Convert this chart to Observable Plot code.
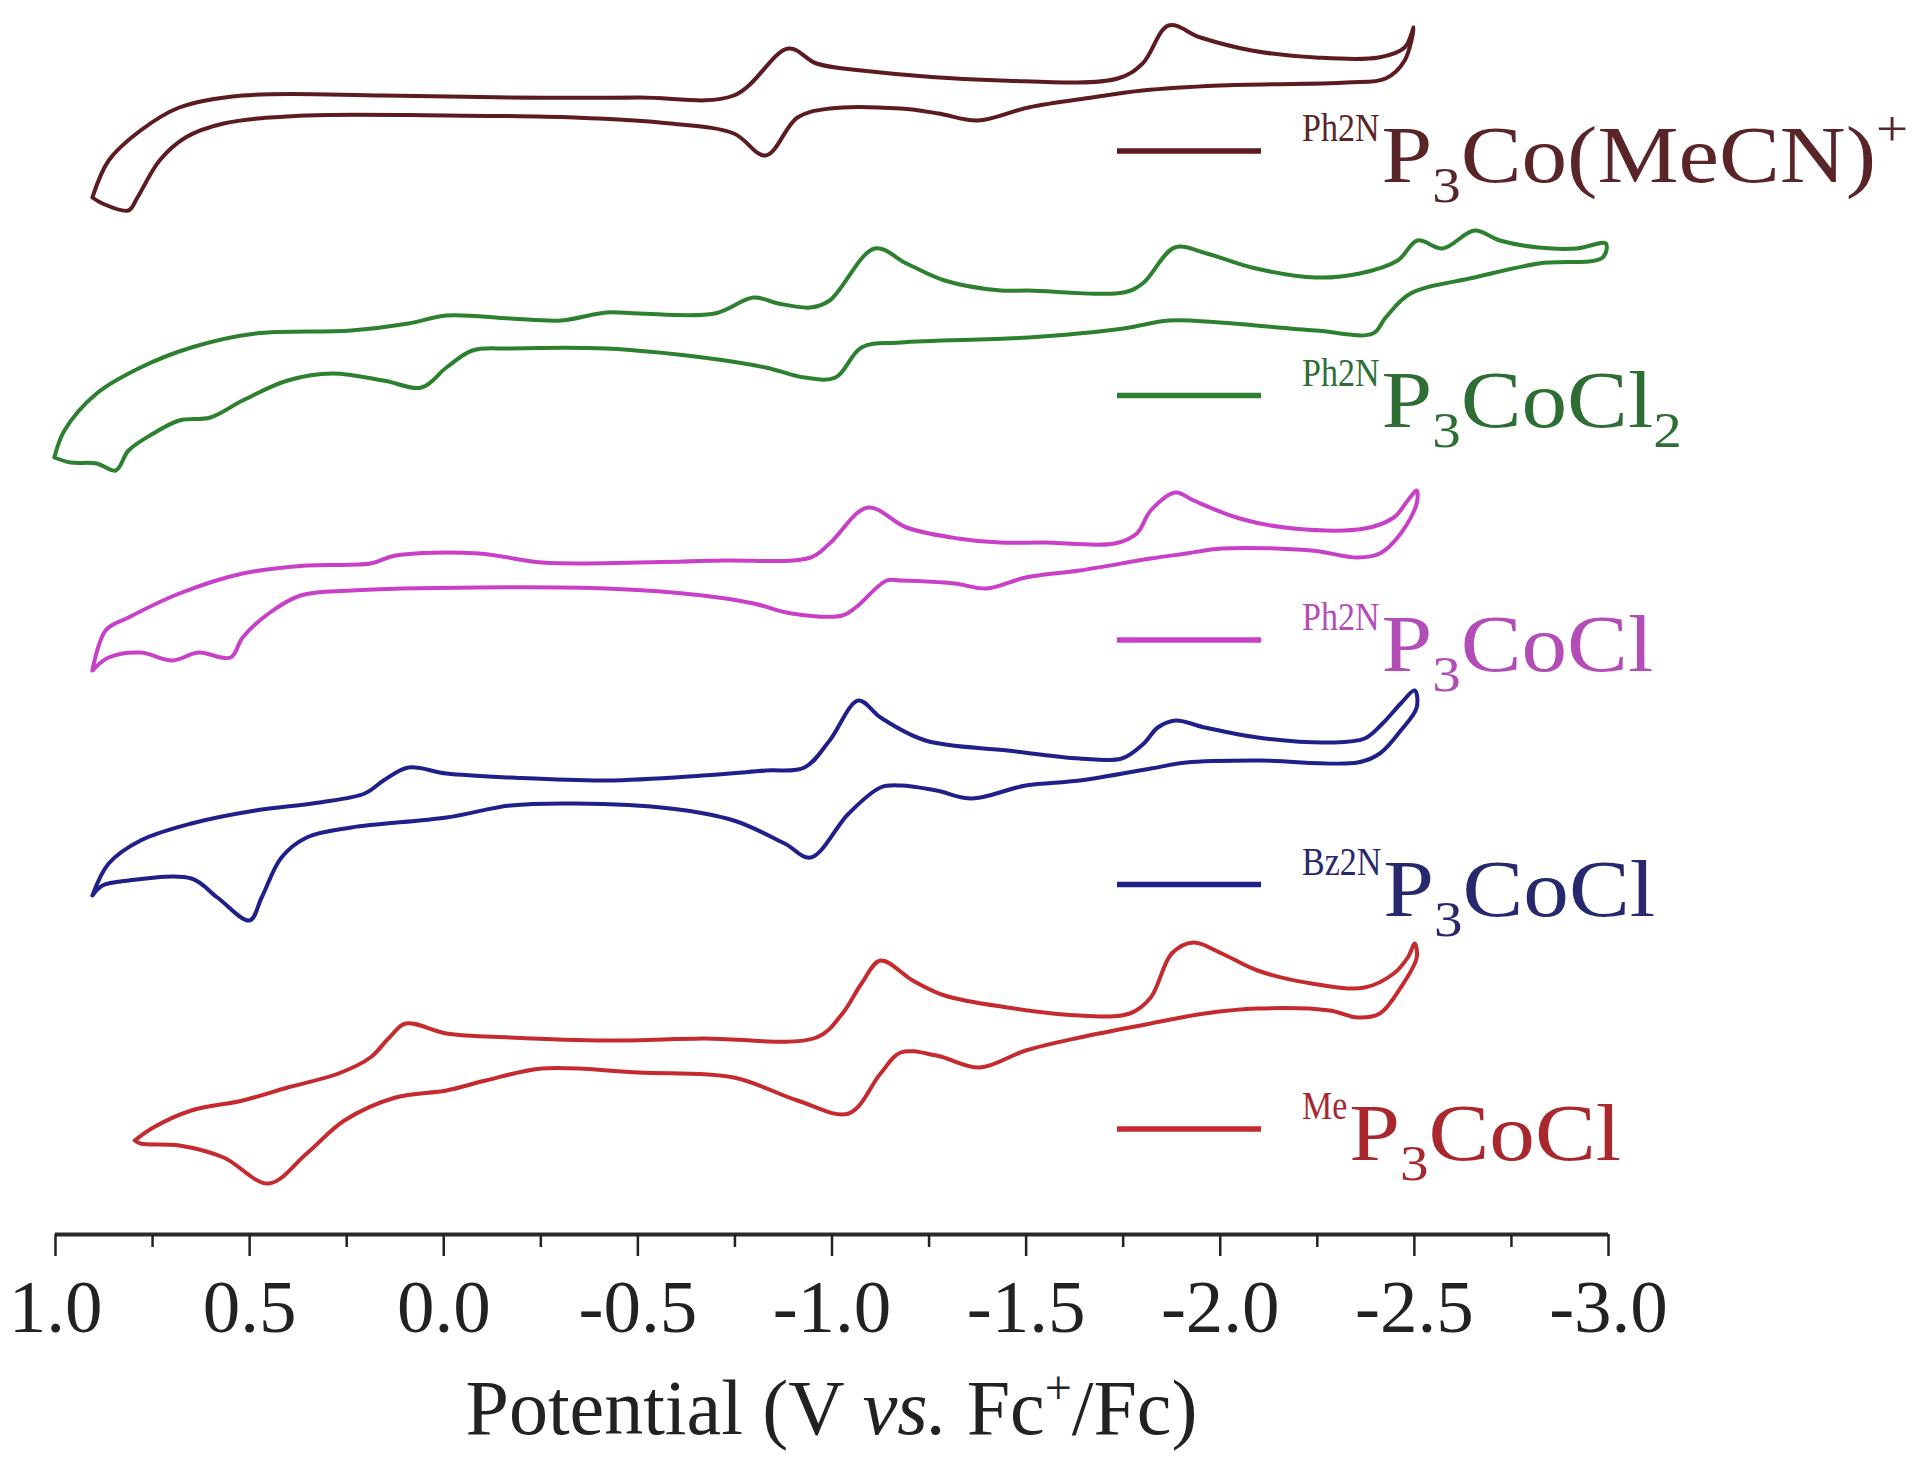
<!DOCTYPE html>
<html><head><meta charset="utf-8">
<script src="https://cdn.jsdelivr.net/npm/d3@7"></script>
<script src="https://cdn.jsdelivr.net/npm/@observablehq/plot@0.6"></script>
<style>
html,body{margin:0;padding:0;background:#fff;overflow:hidden}
#chart svg{display:block}
</style></head><body><div id="chart"></div>
<script>
// ---------- data ----------
const seriesNames = ["Ph2NP3Co(MeCN)+", "Ph2NP3CoCl2", "Ph2NP3CoCl", "Bz2NP3CoCl", "MeP3CoCl"];
const seriesColors = ["#5c1b20", "#2c8030", "#c840c8", "#20208a", "#c42a2e"];
const labelColors = ["#5a2529", "#2e6e35", "#b24cb6", "#28286e", "#a8282e"];
const labelPrefix = ["Ph2N", "Ph2N", "Ph2N", "Bz2N", "Me"];
// [text, kind] kind: "" normal, "sub", "sup"
const labelBody = [
  [["P", ""], ["3", "sub"], ["Co(MeCN)", ""], ["+", "sup"]],
  [["P", ""], ["3", "sub"], ["CoCl", ""], ["2", "sub"]],
  [["P", ""], ["3", "sub"], ["CoCl", ""]],
  [["P", ""], ["3", "sub"], ["CoCl", ""]],
  [["P", ""], ["3", "sub"], ["CoCl", ""]]
];
const majorTicks = [1.0, 0.5, 0.0, -0.5, -1.0, -1.5, -2.0, -2.5, -3.0];
const minorTicks = [0.75, 0.25, -0.25, -0.75, -1.25, -1.75, -2.25, -2.75];
const axisTitle = ["Potential (V ", "vs.", " Fc", "+", "/Fc)"];

// potential (V vs Fc+/Fc), stacked current (a.u.)
const cvPh2NMeCN = [[0.905,103.7],[0.863,107.4],[0.781,110.4],[0.681,112.7],[0.518,113.9],[0.155,113.9],[-0.172,113.7],[-0.502,113.7],[-0.747,113.9],[-0.888,118.6],[-0.960,117.1],[-1.076,116.4],[-1.434,115.4],[-1.736,115.6],[-1.800,117.1],[-1.867,120.9],[-1.949,119.7],[-2.081,118.4],[-2.246,117.7],[-2.408,117.7],[-2.475,118.7],[-2.498,120.7],
  [-2.475,117.4],[-2.426,115.6],[-2.326,115.2],[-1.998,114.9],[-1.800,114.4],[-1.669,113.7],[-1.506,112.7],[-1.375,111.4],[-1.275,112.1],[-1.177,112.6],[-0.994,112.6],[-0.911,111.7],[-0.829,107.9],[-0.747,110.1],[-0.584,111.1],[-0.337,111.7],[-0.007,111.9],[0.353,111.9],[0.567,111.1],[0.665,109.7],[0.732,107.4],[0.789,103.7],[0.812,102.4],[0.879,103.1],[0.905,103.7]];
const cvPh2NCl2 = [[1.003,77.7],[0.977,80.4],[0.894,84.1],[0.781,86.7],[0.650,88.7],[0.485,90.1],[0.238,90.4],[0.091,91.1],[-0.007,91.9],[-0.172,91.6],[-0.303,91.4],[-0.419,92.2],[-0.502,92.1],[-0.698,92.1],[-0.798,93.7],[-0.862,93.1],[-0.945,92.7],[-0.994,93.4],[-1.110,98.6],[-1.192,97.1],[-1.290,95.4],[-1.434,94.4],[-1.506,94.4],[-1.751,94.2],[-1.800,95.1],[-1.883,98.7],[-1.965,98.1],[-2.081,96.7],[-2.246,95.7],[-2.359,96.1],[-2.457,97.4],[-2.508,99.4],[-2.573,98.6],[-2.655,100.4],[-2.720,99.4],[-2.820,98.7],[-2.918,98.6],[-2.993,99.1],
  [-2.985,97.7],[-2.820,97.1],[-2.655,95.7],[-2.490,94.1],[-2.426,91.7],[-2.393,90.1],[-2.246,90.4],[-1.998,91.2],[-1.867,91.4],[-1.751,90.6],[-1.506,89.7],[-1.177,89.2],[-1.076,88.7],[-1.009,85.7],[-0.929,85.7],[-0.829,86.7],[-0.667,87.7],[-0.419,88.6],[-0.172,88.6],[-0.074,88.4],[-0.007,86.7],[0.057,84.7],[0.155,85.4],[0.286,86.1],[0.402,85.4],[0.518,83.4],[0.601,81.7],[0.681,81.4],[0.748,80.1],[0.812,78.4],[0.845,76.4],[0.894,77.1],[0.961,77.2],[1.003,77.7]];
const cvPh2NCl = [[0.905,56.4],[0.871,60.4],[0.812,61.7],[0.681,64.1],[0.518,66.1],[0.353,66.9],[0.189,67.1],[0.124,67.9],[-0.090,68.1],[-0.254,67.2],[-0.502,67.2],[-0.716,67.4],[-0.945,67.7],[-0.994,69.1],[-1.092,72.7],[-1.192,70.7],[-1.324,69.6],[-1.434,69.2],[-1.545,69.2],[-1.728,69.1],[-1.785,70.1],[-1.821,72.4],[-1.885,74.2],[-1.931,73.4],[-2.050,71.6],[-2.189,70.6],[-2.372,70.6],[-2.447,71.7],[-2.483,73.4],[-2.506,74.4],
  [-2.506,73.1],[-2.465,70.1],[-2.411,68.1],[-2.354,67.7],[-2.235,68.4],[-2.004,68.6],[-1.913,68.1],[-1.821,67.6],[-1.638,66.4],[-1.499,65.7],[-1.398,64.6],[-1.316,65.1],[-1.177,65.4],[-1.141,65.4],[-1.061,62.7],[-1.027,61.9],[-0.896,62.1],[-0.798,63.1],[-0.667,63.9],[-0.419,64.6],[-0.090,64.7],[0.238,64.4],[0.369,63.9],[0.451,62.1],[0.518,59.7],[0.549,57.7],[0.632,58.2],[0.699,57.4],[0.781,58.2],[0.863,57.7],[0.905,56.4]];
const cvBz2NCl = [[0.905,33.9],[0.863,37.1],[0.781,39.4],[0.650,41.1],[0.485,42.4],[0.320,43.2],[0.204,44.1],[0.155,45.4],[0.091,46.7],[-0.007,46.1],[-0.172,45.7],[-0.419,45.4],[-0.667,45.9],[-0.829,46.4],[-0.929,46.7],[-0.994,49.4],[-1.068,53.4],[-1.125,51.7],[-1.241,49.4],[-1.452,48.4],[-1.638,47.6],[-1.746,47.6],[-1.803,49.1],[-1.839,50.7],[-1.885,51.4],[-1.960,50.7],[-2.096,49.7],[-2.282,49.2],[-2.372,49.6],[-2.418,51.1],[-2.465,53.1],[-2.501,54.4],
  [-2.506,52.7],[-2.465,50.4],[-2.411,48.1],[-2.354,47.2],[-2.096,47.4],[-1.913,47.2],[-1.821,46.6],[-1.638,45.4],[-1.499,44.9],[-1.360,43.6],[-1.269,44.4],[-1.177,44.9],[-1.125,44.7],[-1.043,42.1],[-0.945,37.7],[-0.878,39.1],[-0.747,41.4],[-0.584,42.6],[-0.337,43.1],[-0.172,42.9],[-0.007,41.7],[0.238,40.7],[0.353,39.7],[0.418,37.7],[0.469,33.7],[0.500,31.4],[0.583,33.7],[0.650,35.6],[0.812,35.4],[0.879,34.9],[0.905,33.9]];
const cvMeCl = [[0.796,9.4],[0.748,10.7],[0.650,12.4],[0.518,13.4],[0.402,14.7],[0.271,16.1],[0.189,17.7],[0.140,19.7],[0.098,21.1],[-0.007,20.1],[-0.172,19.7],[-0.419,19.4],[-0.667,19.6],[-0.960,19.7],[-1.027,22.1],[-1.076,25.1],[-1.125,27.4],[-1.208,25.4],[-1.290,23.9],[-1.452,22.7],[-1.638,21.9],[-1.767,22.1],[-1.821,23.7],[-1.875,28.1],[-1.931,29.2],[-2.004,28.1],[-2.096,26.4],[-2.235,25.1],[-2.372,24.7],[-2.447,26.1],[-2.483,27.7],[-2.501,29.1],
  [-2.506,27.7],[-2.465,24.7],[-2.411,22.1],[-2.354,21.7],[-2.282,22.4],[-2.096,22.6],[-1.960,22.1],[-1.821,21.1],[-1.638,19.7],[-1.499,18.4],[-1.380,16.7],[-1.269,17.9],[-1.177,18.2],[-1.125,16.1],[-1.043,12.1],[-0.911,13.4],[-0.747,15.7],[-0.502,16.2],[-0.254,16.6],[-0.108,15.4],[-0.007,14.4],[0.124,13.7],[0.256,11.4],[0.353,8.1],[0.451,5.1],[0.567,7.7],[0.681,8.9],[0.781,9.1],[0.796,9.4]];

const traces = [cvPh2NMeCN, cvPh2NCl2, cvPh2NCl, cvBz2NCl, cvMeCl];
const rows = traces.flatMap((t, k) => t.map(([E, I], j) => ({series: seriesNames[k], E, I, j})));

// ---------- chart ----------
const FONT = '"Liberation Serif", "Times New Roman", serif';
const chart = Plot.plot({
  width: 1920, height: 1465,
  marginLeft: 55, marginRight: 312, marginTop: 14, marginBottom: 231,
  style: {fontFamily: FONT, background: "#fff", color: "#222", overflow: "visible"},
  x: {domain: [1.0, -3.0], axis: null},
  y: {domain: [0, 122], axis: null},
  color: {domain: seriesNames, range: seriesColors},
  marks: [
    Plot.line(rows, {x: "E", y: "I", z: "series", stroke: "series", strokeWidth: 4,
      curve: "catmull-rom", strokeLinejoin: "round"}),
    Plot.ruleY([0], {stroke: "#2a2a2a", strokeWidth: 4}),
    Plot.axisX(majorTicks, {anchor: "bottom", tickSize: 22, tickPadding: 22, strokeWidth: 2.5,
      tickFormat: d => d.toFixed(1), fontSize: 75, color: "#222", label: null}),
    Plot.axisX(minorTicks, {anchor: "bottom", tickSize: 13, strokeWidth: 2.5,
      tickFormat: () => "", color: "#222", label: null})
  ]
});
document.getElementById("chart").appendChild(chart);

const svg = d3.select(chart);
const sx = chart.scale("x");

// axis title
const cx = (sx.apply(majorTicks[0]) + sx.apply(majorTicks[majorTicks.length - 1])) / 2;
const title = svg.append("text").attr("x", cx).attr("y", 1434)
  .attr("text-anchor", "middle").attr("font-family", FONT).attr("font-size", 78).attr("fill", "#222");
title.append("tspan").text(axisTitle[0]);
title.append("tspan").attr("font-style", "italic").text(axisTitle[1]);
title.append("tspan").text(axisTitle[2]);
title.append("tspan").attr("font-size", 48).attr("dy", -30).text(axisTitle[3]);
title.append("tspan").attr("dy", 30).text(axisTitle[4]);

// legend
const LX1 = 1117, LX2 = 1261, LTX = 1302, LY0 = 151, LDY = 244.5;
seriesNames.forEach((name, k) => {
  const y = LY0 + k * LDY;
  svg.append("line").attr("x1", LX1).attr("x2", LX2).attr("y1", y).attr("y2", y)
    .attr("stroke", seriesColors[k]).attr("stroke-width", 5.5);
  const base = y + 31;
  const pre = svg.append("text").attr("transform", `translate(${LTX},${base - 41}) scale(0.85,1)`)
    .attr("text-anchor", "start")
    .attr("font-family", FONT).attr("font-size", 40).attr("fill", labelColors[k]).text(labelPrefix[k]);
  const preW = pre.node().getComputedTextLength() * 0.85;
  const main = svg.append("text").attr("transform", `translate(${LTX + preW + 2},${base}) scale(1.14,1)`)
    .attr("text-anchor", "start")
    .attr("font-family", FONT).attr("font-size", 80).attr("fill", labelColors[k]);
  let off = 0;
  labelBody[k].forEach(([txt, kind]) => {
    const target = kind === "sub" ? 20 : kind === "sup" ? -36 : 0;
    main.append("tspan").attr("dy", target - off).attr("font-size", kind ? 50 : 80).text(txt);
    off = target;
  });
});
</script>
</body></html>
